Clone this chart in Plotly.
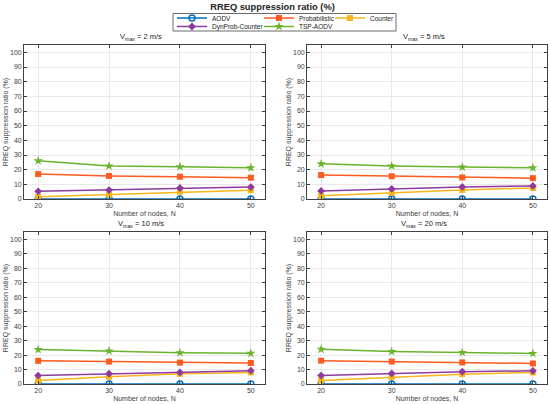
import plotly.graph_objects as go

# number of nodes
nodes = [20, 30, 40, 50]
speeds = ["2", "5", "10", "20"]

# values per speed panel (RREQ suppression ratio, %)
aodv = {
    "2": [0, 0, 0, 0],
    "5": [0, 0, 0, 0],
    "10": [0, 0, 0, 0],
    "20": [0, 0, 0, 0],
}
probabilistic = {
    "2": [17.0, 15.7, 15.2, 14.5],
    "5": [16.3, 15.5, 14.7, 14.2],
    "10": [16.0, 15.5, 14.8, 14.5],
    "20": [16.1, 15.5, 14.9, 14.2],
}
counter = {
    "2": [1.5, 3.0, 5.0, 6.0],
    "5": [2.2, 4.2, 6.2, 7.5],
    "10": [2.4, 5.0, 7.0, 8.0],
    "20": [2.5, 4.8, 6.8, 8.0],
}
dynprob = {
    "2": [5.2, 6.1, 7.5, 8.1],
    "5": [5.5, 6.9, 8.2, 8.9],
    "10": [5.8, 7.1, 8.0, 9.2],
    "20": [5.8, 7.3, 8.5, 9.1],
}
tsp = {
    "2": [26.0, 22.5, 22.0, 21.3],
    "5": [24.0, 22.5, 21.8, 21.3],
    "10": [23.8, 22.8, 21.6, 21.2],
    "20": [24.0, 22.4, 21.8, 21.1],
}

W, H = 550, 404

# name, data, colour, marker, legend slot (text x, row y in px)
series = [
    ("AODV", aodv, "#0072BD", "circle-open", (212, 18)),
    ("Probabilistic", probabilistic, "#FF5A1F", "square", (299, 18)),
    ("Counter", counter, "#F7B51A", "square", (370, 18)),
    ("DynProb-Counter", dynprob, "#8E3A9E", "diamond", (212, 26.5)),
    ("TSP-AODV", tsp, "#6BB22E", "star", (299, 26.5)),
]

# panel boxes in pixels: (left, right, top, bottom)
boxes = [(24, 265, 45, 199), (307, 547, 45, 199),
         (24, 265, 232, 384), (307, 547, 232, 384)]

fig = go.Figure()
font = "Liberation Sans, Arial, sans-serif"
grey = "#404040"

for i, sp in enumerate(speeds):
    n = "" if i == 0 else str(i + 1)
    for k, (name, d, col, sym, _) in enumerate(series):
        fig.add_trace(go.Scatter(
            x=nodes, y=d[sp], name=name, mode="lines+markers",
            line=dict(color=col, width=1.5),
            marker=dict(symbol=sym, size=6 if sym != "star" else 7, color=col,
                        line=dict(color=col, width=1.5 if sym == "circle-open" else 0)),
            xaxis="x" + n, yaxis="y" + n, showlegend=(i == 0),
            legend="legend" if k == 0 else "legend%d" % (k + 1),
        ))
    l, r, t, b = boxes[i]
    ax = dict(showline=True, linecolor=grey, linewidth=0.8, mirror="ticks",
              ticks="inside", ticklen=3, tickcolor=grey, tickwidth=0.8,
              showgrid=True, gridcolor="#e8e8e8", gridwidth=0.8, automargin=False,
              tickfont=dict(size=7, color=grey, family=font), zeroline=False)
    fig.layout["xaxis" + n] = dict(ax, domain=[l / W, r / W], range=[18, 52],
                                   tickvals=nodes, anchor="y" + n,
                                   title=dict(text="Number of nodes, N", standoff=2,
                                              font=dict(size=7, color=grey, family=font)))
    fig.layout["yaxis" + n] = dict(ax, domain=[1 - b / H, 1 - t / H], range=[0, 105],
                                   tickvals=list(range(0, 101, 10)), anchor="x" + n,
                                   title=dict(text="RREQ suppression ratio (%)", standoff=0,
                                              font=dict(size=7, color=grey, family=font)))
    fig.add_annotation(text="V<sub>max</sub> = %s m/s" % sp, x=(l + r) / 2 / W - 0.006,
                       y=1 - (t - 1) / H, xref="paper", yref="paper",
                       xanchor="center", yanchor="bottom", showarrow=False,
                       font=dict(size=7.5, color="#222", family=font))

# legend frame
fig.add_shape(type="rect", xref="paper", yref="paper", x0=173 / W, x1=396 / W,
              y0=1 - 31 / H, y1=1 - 13.5 / H, line=dict(color="#444", width=0.8))

legends = {}
for k, (name, _, _, _, (tx, ty)) in enumerate(series):
    key = "legend" if k == 0 else "legend%d" % (k + 1)
    legends[key] = dict(orientation="h", xanchor="left", yanchor="middle",
                        x=(tx - 40) / W, y=1 - ty / H, bgcolor="rgba(0,0,0,0)",
                        font=dict(size=6.5, color="#222", family=font), itemwidth=30)

fig.update_layout(
    width=W, height=H, margin=dict(l=0, r=0, t=0, b=0, autoexpand=False),
    paper_bgcolor="white", plot_bgcolor="white", hovermode=False,
    title=dict(text="<b>RREQ suppression ratio (%)</b>", x=272.5 / W, xanchor="center",
               y=1 - 7 / H, yanchor="middle", font=dict(size=9.3, color="#222", family=font)),
    **legends,
)

fig.write_html("out.html", config={"displayModeBar": False},
               post_script="document.body.style.margin='0';")
